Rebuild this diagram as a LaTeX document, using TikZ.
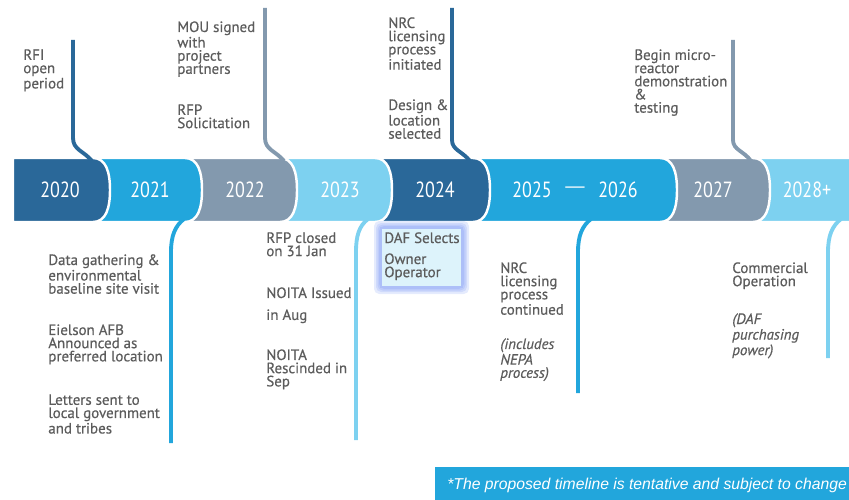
\documentclass[tikz,border=0pt]{standalone}
\usepackage{fontspec}
\setmainfont{PT Sans}[FakeBold=0.5]
\newfontfamily\yearfont[FakeStretch=0.82]{PT Sans}
\newfontfamily\notefont{Liberation Sans}
\usetikzlibrary{positioning}

\definecolor{darkblue}{HTML}{2A6899}
\definecolor{midblue}{HTML}{22A6DC}
\definecolor{slateblue}{HTML}{8399AE}
\definecolor{skyblue}{HTML}{7DD1F0}
\definecolor{textgray}{HTML}{5C5C5C}
\definecolor{boxfill}{HTML}{DDF3FB}
\definecolor{glowblue}{HTML}{5C80F2}

% one piece of the year band: colour, left x, right x (rounded right end)
\newcommand{\yearband}[3]{%
  \path[fill=#1, draw=white, line width=1.4pt]
    (#2,158) -- ({#3-17},158)
    .. controls ({#3-4},158) and (#3,172) .. (#3,190)
    .. controls (#3,208) and ({#3-4},222) .. ({#3-17},222)
    -- (#2,222) -- cycle;}

\begin{document}
\begin{tikzpicture}[
    x=0.02cm, y=-0.02cm,
    year/.style={text=white, inner sep=0pt, font=\yearfont\fontsize{12.5}{12}\selectfont},
    note/.style={anchor=north west, inner sep=0pt, align=left, text=textgray,
                 font=\fontsize{8.5}{7.5}\selectfont},
    aside/.style={note, font=\itshape\fontsize{8.5}{7.5}\selectfont},
    stem/.style={line width=2.2pt}
    ]
    \clip (0,0) rectangle (849,500);

    % band, drawn from the right so each piece sits over the next one
    \yearband{skyblue}{740}{880}
    \yearband{slateblue}{650}{770}
    \yearband{midblue}{460}{677}
    \yearband{darkblue}{370}{490}
    \yearband{skyblue}{280}{392}
    \yearband{slateblue}{185}{297}
    \yearband{midblue}{95}{202}
    \yearband{darkblue}{13}{110}

    \node[year] (y2020) at (60,190) {2020};
    \node[year] (y2021) at (150,190) {2021};
    \node[year] (y2022) at (245,190) {2022};
    \node[year] (y2023) at (340,190) {2023};
    \node[year] (y2024) at (435,190) {2024};
    \node[year] (y2025) at (532,190) {2025};
    \node[year, font=\notefont\fontsize{11}{12}\selectfont] (dash) at (575,190) {—};
    \node[year] (y2026) at (618,190) {2026};
    \node[year] (y2027) at (713,190) {2027};
    \node[year] (y2028) at (807,190) {2028+};

    % stems above the band
    \draw[stem, darkblue] (73,40) -- (73,138) .. controls (73,150) and (84,151) .. (92,161);
    \draw[stem, slateblue] (265,8) -- (265,138) .. controls (265,150) and (276,151) .. (284,161);
    \draw[stem, darkblue] (452,8) -- (452,140) .. controls (452,150) and (462,151) .. (470,161);
    \draw[stem, slateblue] (733,40) -- (733,140) .. controls (733,150) and (744,151) .. (751,161);

    % stems below the band
    \draw[stem, midblue] (184,219) .. controls (175,226) and (171,236) .. (171,252) -- (171,443);
    \draw[stem, skyblue] (368,219) .. controls (359,226) and (356,236) .. (356,252) -- (356,440);
    \draw[stem, midblue] (591,219) .. controls (582,226) and (578,236) .. (578,252) -- (578,393);
    \draw[stem, skyblue] (841,219) .. controls (832,226) and (828,236) .. (828,252) -- (828,358);

    \node[note] (rfi) at (23,49) {RFI\\open\\period};
    \node[note] (mou) at (177,21) {MOU signed\\with\\project\\partners};
    \node[note] (rfp) at (177,104) {RFP\\Solicitation};
    \node[note] (nrc) at (388,17) {NRC\\licensing\\process\\initiated};
    \node[note] (design) at (388,99) {Design \&\\location\\selected};
    \node[note] (micro) at (634,49) {Begin micro-\\reactor\\demonstration\\\&\\testing};

    \node[note] (data) at (48,254) {Data gathering \&\\environmental\\baseline site visit};
    \node[note] (eielson) at (48,324) {Eielson AFB\\Announced as\\preferred location};
    \node[note] (letters) at (48,394) {Letters sent to\\local government\\and tribes};
    \node[note] (closed) at (266,232) {RFP closed\\on 31 Jan};
    \node[note] (issued) at (266,287) {NOITA Issued\\[5pt]in Aug};
    \node[note] (rescind) at (266,349) {NOITA\\Rescinded in\\Sep};

    % highlighted selection box
    \foreach \g in {7,5,3.5,2}
      \fill[glowblue, opacity=0.16, rounded corners=3pt] ({381-\g},{228-\g}) rectangle ({462+\g},{287+\g});
    \fill[boxfill, draw=glowblue!50, line width=0.6pt] (381,228) rectangle (462,287);
    \node[note] (daf) at (384,232) {DAF Selects};
    \node[note] (owner) at (384,253) {Owner\\Operator};

    \node[note] (cont) at (500,262) {NRC\\licensing\\process\\continued};
    \node[aside] (nepa) at (500,338) {(includes\\NEPA\\process)};
    \node[note] (comm) at (732,262) {Commercial\\Operation};
    \node[aside] (power) at (732,313) {(DAF\\purchasing\\power)};

    % footnote bar
    \fill[midblue] (435,467) rectangle (860,505);
    \node[anchor=west, inner sep=0pt, text=white, font=\notefont\itshape\fontsize{8.95}{10}\selectfont]
      (tentative) at (447,485) {*The proposed timeline is tentative and subject to change};
\end{tikzpicture}
\end{document}
